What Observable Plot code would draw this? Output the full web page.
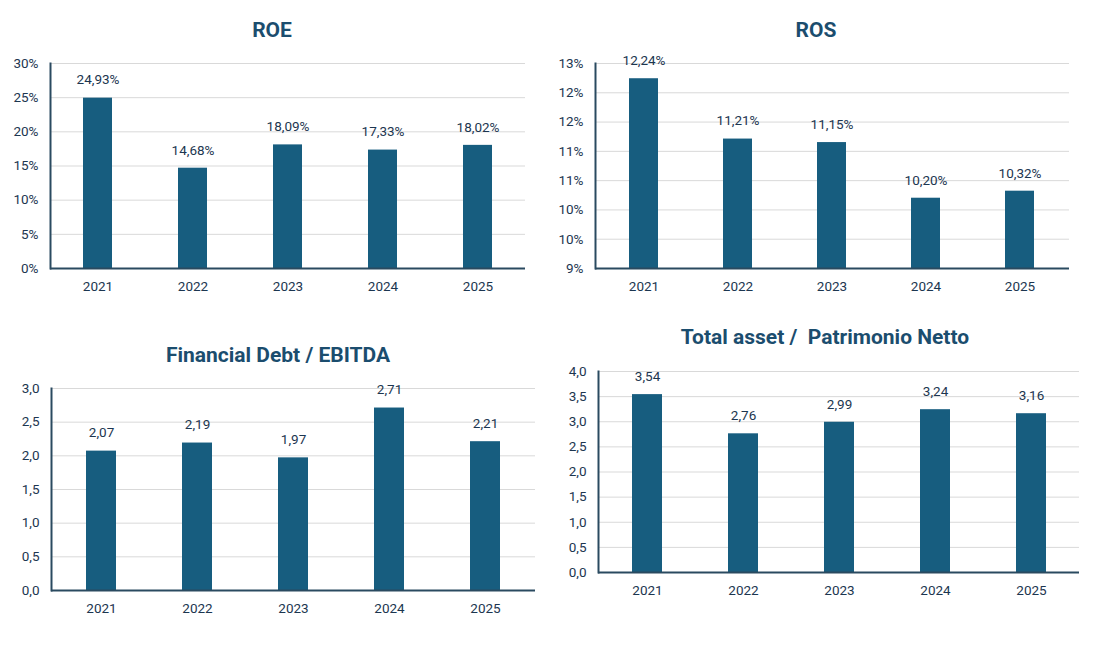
<!DOCTYPE html>
<html>
<head>
<meta charset="utf-8">
<script src="https://cdn.jsdelivr.net/npm/d3@7"></script>
<script src="https://cdn.jsdelivr.net/npm/@observablehq/plot@0.6"></script>
<style>
  html, body { margin: 0; padding: 0; background: #fff; }
  #root { position: relative; width: 1100px; height: 646px; overflow: hidden; font-family: Roboto, "Noto Sans", sans-serif; }
  .title { position: absolute; transform: translate(-50%, -50%); white-space: pre; font-weight: 700; font-size: 21px; color: #1b4d6e; }
  .chart { position: absolute; }
  .chart svg { overflow: visible; }
</style>
</head>
<body>
<div id="root"></div>
<script>
// ---- data ----
const years = ["2021", "2022", "2023", "2024", "2025"];
const roe = [24.93, 14.68, 18.09, 17.33, 18.02];
const ros = [12.24, 11.21, 11.15, 10.20, 10.32];
const debtEbitda = [2.07, 2.19, 1.97, 2.71, 2.21];
const assetEquity = [3.54, 2.76, 2.99, 3.24, 3.16];

const roeTicks = [0, 5, 10, 15, 20, 25, 30];
const roeTickLabels = ["0%", "5%", "10%", "15%", "20%", "25%", "30%"];
const rosTicks = [9, 9.5, 10, 10.5, 11, 11.5, 12, 12.5];
const rosTickLabels = ["9%", "10%", "10%", "11%", "11%", "12%", "12%", "13%"];
const debtTicks = [0, 0.5, 1, 1.5, 2, 2.5, 3];
const debtTickLabels = ["0,0", "0,5", "1,0", "1,5", "2,0", "2,5", "3,0"];
const assetTicks = [0, 0.5, 1, 1.5, 2, 2.5, 3, 3.5, 4];
const assetTickLabels = ["0,0", "0,5", "1,0", "1,5", "2,0", "2,5", "3,0", "3,5", "4,0"];

const titles = ["ROE", "ROS", "Financial Debt / EBITDA", "Total asset /  Patrimonio Netto"];

// ---- styles ----
const barColor = "#175d7f";
const textColor = "#1c3650";
const axisColor = "#2a4a60";
const gridColor = "#d9d9d9";
const fs = 13.5;

const root = document.getElementById("root");

function chart({title, titleX, titleY, values, ticks, tickLabels, domain, fmt, left, top, width, height, mL, mR}) {
  const t = document.createElement("div");
  t.className = "title";
  t.textContent = title;
  t.style.left = titleX + "px";
  t.style.top = titleY + "px";
  root.appendChild(t);

  const data = years.map((y, i) => ({year: y, value: values[i]}));
  const plot = Plot.plot({
    width, height,
    marginLeft: mL, marginRight: mR, marginTop: 13, marginBottom: 42,
    style: {fontFamily: "Roboto, 'Noto Sans', sans-serif", fontSize: fs + "px", color: textColor, background: "transparent"},
    x: {domain: years, paddingInner: 0.69, paddingOuter: 0.345, label: null},
    y: {domain, label: null},
    marks: [
      Plot.gridY(ticks, {stroke: gridColor, strokeOpacity: 1, strokeWidth: 1}),
      Plot.barY(data, {x: "year", y1: domain[0], y2: "value", fill: barColor}),
      Plot.text(data, {x: "year", y: "value", text: d => fmt(d.value), dy: -18, fill: textColor, fontSize: fs}),
      Plot.axisY(ticks, {tickSize: 0, tickPadding: 12, tickFormat: (d, i) => tickLabels[i], fill: textColor, fontSize: fs, label: null}),
      Plot.axisX({tickSize: 0, tickPadding: 13, fill: textColor, fontSize: fs, label: null}),
      Plot.ruleY([domain[0]], {stroke: axisColor, strokeWidth: 2}),
      Plot.frame({anchor: "left", stroke: axisColor, strokeWidth: 2})
    ]
  });
  const wrap = document.createElement("div");
  wrap.className = "chart";
  wrap.style.left = left + "px";
  wrap.style.top = top + "px";
  wrap.appendChild(plot);
  root.appendChild(wrap);
}

const pct = v => v.toFixed(2).replace(".", ",") + "%";
const num = v => v.toFixed(2).replace(".", ",");

chart({title: titles[0], titleX: 272, titleY: 30, values: roe, ticks: roeTicks, tickLabels: roeTickLabels,
  domain: [0, 30], fmt: pct, left: 0, top: 50, width: 545, height: 260, mL: 50, mR: 20});
chart({title: titles[1], titleX: 816, titleY: 30, values: ros, ticks: rosTicks, tickLabels: rosTickLabels,
  domain: [9, 12.5], fmt: pct, left: 550, top: 50, width: 540, height: 260, mL: 45, mR: 21});
chart({title: titles[2], titleX: 278, titleY: 355, values: debtEbitda, ticks: debtTicks, tickLabels: debtTickLabels,
  domain: [0, 3], fmt: num, left: 0, top: 375, width: 555, height: 257, mL: 51, mR: 20});
chart({title: titles[3], titleX: 825, titleY: 337, values: assetEquity, ticks: assetTicks, tickLabels: assetTickLabels,
  domain: [0, 4], fmt: num, left: 550, top: 358, width: 550, height: 256, mL: 48, mR: 21});
</script>
</body>
</html>
